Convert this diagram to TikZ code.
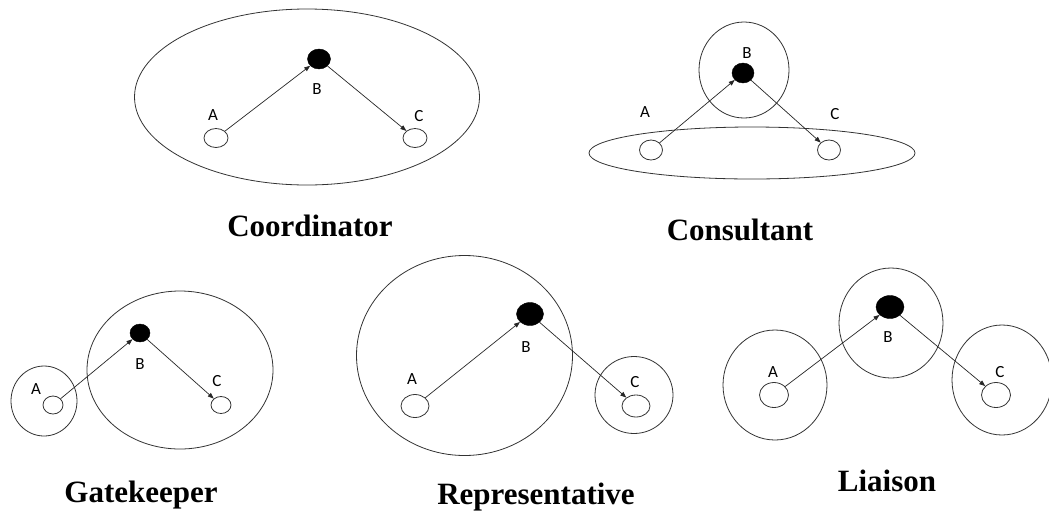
\documentclass[tikz,border=0pt]{standalone}
\usepackage{fontspec}
\setmainfont{Liberation Serif}
\newfontfamily\lblfont{Carlito}
\usetikzlibrary{shapes.geometric,arrows.meta}
\begin{document}
\begin{tikzpicture}[x=1pt,y=-1pt,
  ring/.style={ellipse,draw=black!80,line width=0.8pt,inner sep=0pt},
  actor/.style={ellipse,draw=black!80,line width=0.8pt,inner sep=0pt,minimum width=24pt,minimum height=19pt},
  hub/.style={ellipse,draw=black,fill=black,inner sep=0pt,minimum width=23pt,minimum height=20pt},
  lbl/.style={font=\lblfont\fontsize{17}{17}\selectfont,inner sep=0pt},
  title/.style={font=\bfseries\fontsize{31}{31}\selectfont,inner sep=0pt},
  flow/.style={-{Triangle[length=6pt,width=4.5pt]},line width=0.7pt,draw=black!85}]
\useasboundingbox (0,0) rectangle (1049,515);

% ---------- Coordinator ----------
\node[ring,minimum width=345pt,minimum height=176pt] (co-ring) at (307,97) {};
\node[hub] (co-B) at (319,59) {};
\node[actor] (co-A) at (216,138) {};
\node[actor] (co-C) at (415,138) {};
\node[lbl] (co-lA) at (213,115) {A};
\node[lbl] (co-lB) at (317,89) {B};
\node[lbl] (co-lC) at (419,116) {C};
\draw[flow] (co-A) -- (co-B);
\draw[flow] (co-B) -- (co-C);
\node[title] (co-title) at (310,226) {Coordinator};

% ---------- Consultant ----------
\node[ring,minimum width=326pt,minimum height=52pt] (cs-group) at (752,153) {};
\node[ring,minimum width=90pt,minimum height=96pt] (cs-ring) at (744,70) {};
\node[hub,minimum width=22pt] (cs-B) at (743,73) {};
\node[actor,minimum width=23pt,minimum height=20pt] (cs-A) at (651,150) {};
\node[actor,minimum width=23pt,minimum height=20pt] (cs-C) at (829,150) {};
\node[lbl] (cs-lA) at (645,112) {A};
\node[lbl] (cs-lB) at (747,53) {B};
\node[lbl] (cs-lC) at (835,114) {C};
\draw[flow] (cs-A) -- (cs-B);
\draw[flow] (cs-B) -- (cs-C);
\node[title] (cs-title) at (740,230) {Consultant};

% ---------- Gatekeeper ----------
\node[ring,minimum width=66pt,minimum height=70pt] (gk-ringA) at (44,401) {};
\node[ring,minimum width=186pt,minimum height=158pt] (gk-ring) at (180,370) {};
\node[hub,minimum width=20pt,minimum height=18pt] (gk-B) at (140,333) {};
\node[actor,minimum width=20pt,minimum height=18pt] (gk-A) at (53,405) {};
\node[actor,minimum width=20pt,minimum height=17pt] (gk-C) at (221,405) {};
\node[lbl] (gk-lA) at (36,389) {A};
\node[lbl] (gk-lB) at (140,364) {B};
\node[lbl] (gk-lC) at (217,381) {C};
\draw[flow] (gk-A) -- (gk-B);
\draw[flow] (gk-B) -- (gk-C);
\node[title] (gk-title) at (141,495) {Gatekeeper};

% ---------- Representative ----------
\node[ring,minimum width=216pt,minimum height=200pt] (rp-ring) at (464.5,355.5) {};
\node[ring,minimum width=78pt,minimum height=77pt] (rp-ringC) at (634,395) {};
\node[hub,minimum width=27pt,minimum height=23pt] (rp-B) at (530,314) {};
\node[actor,minimum width=28pt,minimum height=23pt] (rp-A) at (415,406) {};
\node[actor,minimum width=28pt,minimum height=22pt] (rp-C) at (636,406) {};
\node[lbl] (rp-lA) at (412,379) {A};
\node[lbl] (rp-lB) at (526,347) {B};
\node[lbl] (rp-lC) at (635,382) {C};
\draw[flow] (rp-A) -- (rp-B);
\draw[flow] (rp-B) -- (rp-C);
\node[title] (rp-title) at (536,497) {Representative};

% ---------- Liaison ----------
\node[ring,minimum width=104pt,minimum height=110pt] (li-ringA) at (775,385) {};
\node[ring,minimum width=104pt,minimum height=110pt] (li-ringB) at (891,323) {};
\node[ring,minimum width=100pt,minimum height=110pt] (li-ringC) at (1002,380) {};
\node[hub,minimum width=28pt,minimum height=23pt] (li-B) at (890,307) {};
\node[actor,minimum width=29pt,minimum height=25pt] (li-A) at (774,395) {};
\node[actor,minimum width=29pt,minimum height=25pt] (li-C) at (996,395) {};
\node[lbl] (li-lA) at (773,372) {A};
\node[lbl] (li-lB) at (888,337) {B};
\node[lbl] (li-lC) at (1000,372) {C};
\draw[flow] (li-A) -- (li-B);
\draw[flow] (li-B) -- (li-C);
\node[title] (li-title) at (887,481) {Liaison};
\end{tikzpicture}
\end{document}
